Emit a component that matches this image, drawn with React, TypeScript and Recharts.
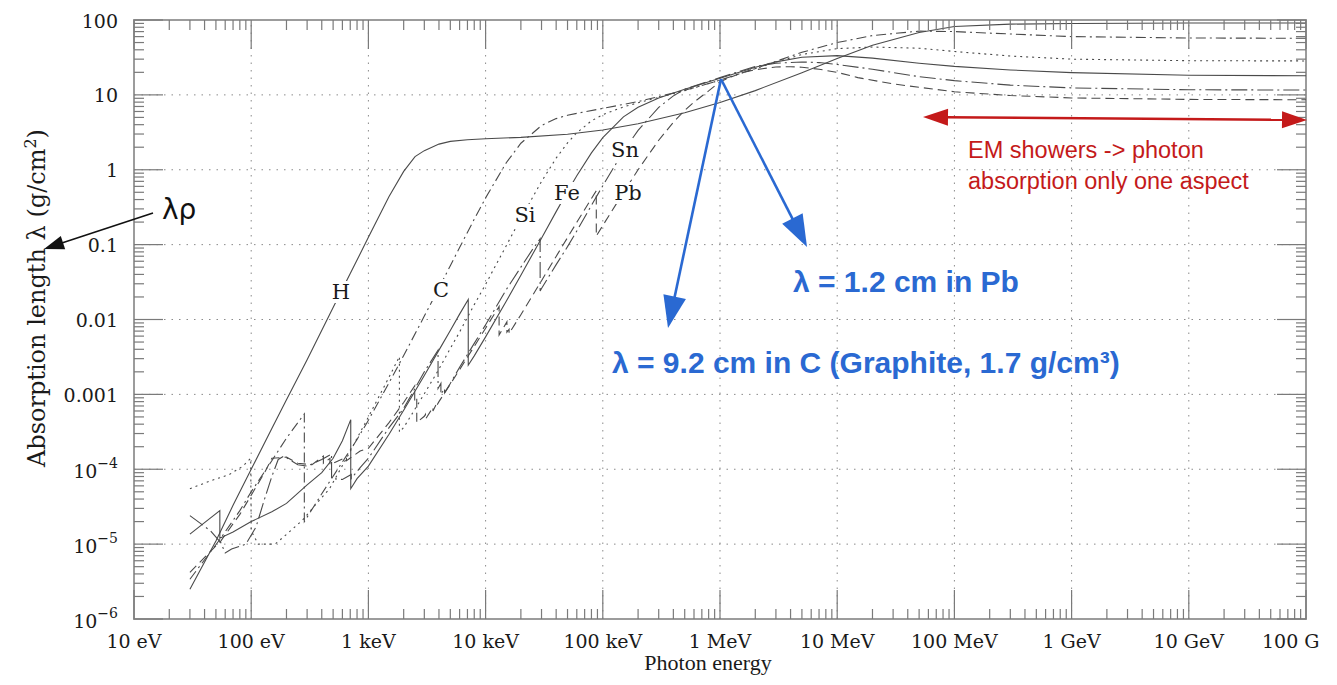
import React from 'react';
import { LineChart, Line, XAxis, YAxis, ReferenceLine, ReferenceArea } from 'recharts';

// ---------- axis definitions ----------
const X_DECADES = [10, 100, 1e3, 1e4, 1e5, 1e6, 1e7, 1e8, 1e9, 1e10, 1e11];
const X_LABELS = ['10 eV', '100 eV', '1 keV', '10 keV', '100 keV', '1 MeV', '10 MeV', '100 MeV', '1 GeV', '10 GeV', '100 G'];
const Y_DECADES = [1e-6, 1e-5, 1e-4, 1e-3, 1e-2, 1e-1, 1, 10, 100];
const Y_LABEL_BASE = ['10', '10', '10', '0.001', '0.01', '0.1', '1', '10', '100'];
const Y_LABEL_EXP = ['\u22126', '\u22125', '\u22124', '', '', '', '', '', ''];
const MINOR_MULT = [2, 3, 4, 5, 6, 7, 8, 9];

// ---------- data: photon energy (eV) vs absorption length (g/cm^2) ----------
const H_DATA: [number, number][] = [
  [30, 2.5e-6], [50, 1.1e-5], [70, 3.3e-5], [100, 1.0e-4], [150, 3.5e-4], [200, 8.5e-4], [300, 2.9e-3],
  [500, 1.45e-2], [700, 4.1e-2], [1000, 0.125], [1500, 0.44], [2000, 0.95], [2500, 1.5], [3000, 1.8],
  [4000, 2.2], [5000, 2.39], [7000, 2.52], [10000, 2.59], [20000, 2.71], [50000, 2.98], [1e5, 3.4],
  [2e5, 4.12], [5e5, 5.78], [1e6, 7.92], [2e6, 11.4], [5e6, 19.8], [1e7, 30.7], [2e7, 46], [5e7, 68],
  [1e8, 82], [3e8, 88], [1e9, 90], [1e10, 91], [1e11, 91],
];
const C_DATA: [number, number][] = [
  [30, 3.4e-6], [55, 1.2e-5], [80, 2.8e-5], [100, 5e-5], [150, 1.3e-4], [200, 2.6e-4], [284, 5.5e-4],
  [284, 2e-5], [400, 4.7e-5], [600, 1.25e-4], [800, 2.5e-4], [1000, 4.5e-4], [1500, 1.43e-3], [2000, 3.3e-3],
  [3000, 0.0111], [4000, 0.0265], [5000, 0.0523], [6000, 0.0913], [8000, 0.2185], [10000, 0.421],
  [15000, 1.24], [20000, 2.26], [30000, 3.9], [40000, 4.82], [50000, 5.34], [70000, 5.95], [1e5, 6.6],
  [2e5, 8.14], [5e5, 11.5], [1e6, 15.7], [2e6, 22.5], [5e6, 37], [1e7, 50], [2e7, 62], [5e7, 71],
  [1e8, 70], [3e8, 65], [1e9, 60], [1e10, 57.5], [1e11, 57],
];
const SI_DATA: [number, number][] = [
  [30, 5.5e-5], [45, 7e-5], [65, 8.5e-5], [85, 1.1e-4], [99, 1.4e-4], [100, 1.5e-5], [115, 1.0e-5],
  [160, 1.0e-5], [200, 1.35e-5], [275, 2.1e-5], [350, 3.3e-5], [466, 5.5e-5], [650, 1.4e-4], [1000, 5e-4],
  [1500, 1.7e-3], [1839, 3.2e-3], [1839, 3.13e-4], [2000, 3.6e-4], [3000, 1.02e-3], [4000, 2.17e-3],
  [5000, 4.1e-3], [6000, 6.8e-3], [8000, 0.0158], [10000, 0.0295], [15000, 0.0967], [20000, 0.224],
  [30000, 0.696], [40000, 1.43], [50000, 2.28], [60000, 3.12], [80000, 4.49], [1e5, 5.45], [1.5e5, 6.9],
  [2e5, 7.84], [3e5, 9.24], [5e5, 11.4], [1e6, 15.7], [2e6, 22.4], [3e6, 27.4], [5e6, 34.6], [1e7, 41.5],
  [2e7, 43.5], [5e7, 42], [1e8, 38], [3e8, 33], [1e9, 30], [1e10, 28.6], [1e11, 28.4],
];
const FE_DATA: [number, number][] = [
  [30, 1.36e-5], [54, 2.8e-5], [54, 1.2e-5], [70, 1.45e-5], [100, 2e-5], [150, 2.7e-5], [200, 3.5e-5],
  [300, 6.2e-5], [400, 9e-5], [500, 1.4e-4], [600, 2.4e-4], [707, 4.6e-4], [707, 5.5e-5], [800, 7.5e-5],
  [1000, 1.1e-4], [1500, 2.94e-4], [2000, 6.15e-4], [3000, 1.79e-3], [4000, 3.9e-3], [5000, 7.15e-3],
  [6000, 0.0118], [7112, 0.0185], [7112, 2.45e-3], [8000, 3.27e-3], [10000, 5.86e-3], [15000, 0.0175],
  [20000, 0.039], [30000, 0.122], [40000, 0.276], [50000, 0.511], [60000, 0.83], [80000, 1.68], [1e5, 2.69],
  [1.5e5, 5.09], [2e5, 6.85], [3e5, 9.1], [5e5, 11.9], [1e6, 16.7], [2e6, 23.4], [3e6, 27.6], [5e6, 31.8],
  [1e7, 33.4], [2e7, 31], [5e7, 26.5], [1e8, 24], [3e8, 21.5], [1e9, 19.8], [1e10, 18.3], [1e11, 18],
];
const SN_DATA: [number, number][] = [
  [30, 2.4e-5], [45, 1.5e-5], [55, 1.05e-5], [60, 7.6e-6], [68, 8.6e-6], [90, 1.0e-5], [110, 1.7e-5],
  [130, 4e-5], [150, 8e-5], [170, 1.35e-4], [190, 1.5e-4], [250, 1.15e-4], [300, 1.1e-4], [400, 1.35e-4],
  [485, 1.6e-4], [485, 7.5e-5], [600, 7.3e-5], [714, 8.5e-5], [714, 7.5e-5], [850, 1.05e-4], [1000, 1.4e-4],
  [1500, 3.6e-4], [2000, 6.5e-4], [3000, 2.0e-3], [3929, 3.9e-3], [3929, 1.2e-3], [4156, 1.4e-3],
  [4156, 1.0e-3], [4465, 1.2e-3], [4465, 1.05e-3], [5000, 1.4e-3], [6000, 2.3e-3], [8000, 4.8e-3],
  [10000, 8.5e-3], [15000, 0.025], [20000, 0.05], [25000, 0.085], [29200, 0.12], [29200, 0.024],
  [30000, 0.026], [40000, 0.054], [50000, 0.094], [60000, 0.152], [80000, 0.335], [1e5, 0.613],
  [1.5e5, 1.76], [2e5, 3.36], [3e5, 6.8], [4e5, 9.7], [5e5, 11.9], [1e6, 17], [2e6, 24], [3e6, 26.5],
  [5e6, 27.5], [7e6, 27], [1e7, 25.5], [2e7, 22], [5e7, 17.5], [1e8, 15.5], [3e8, 13.5], [1e9, 12.4],
  [1e10, 11.7], [1e11, 11.6],
];
const PB_DATA: [number, number][] = [
  [30, 4.2e-6], [55, 1.1e-5], [80, 2.5e-5], [100, 4.5e-5], [130, 9e-5], [150, 1.4e-4], [200, 1.45e-4],
  [250, 1.2e-4], [330, 1.15e-4], [413, 1.5e-4], [413, 1.2e-4], [470, 1.4e-4], [470, 1.15e-4], [650, 1.45e-4],
  [650, 1.3e-4], [850, 1.75e-4], [1000, 1.9e-4], [1500, 4.2e-4], [2000, 7.8e-4], [2484, 1.3e-3],
  [2484, 8e-4], [2586, 8.8e-4], [2586, 4.2e-4], [3000, 5.1e-4], [3066, 5.4e-4], [3066, 4.65e-4],
  [3554, 6.7e-4], [3554, 6e-4], [3851, 7.7e-4], [3851, 7.2e-4], [4000, 8e-4], [5000, 1.37e-3],
  [6000, 2.14e-3], [8000, 4.37e-3], [10000, 7.66e-3], [13035, 0.0149], [13035, 6.2e-3], [15200, 9.3e-3],
  [15200, 6.8e-3], [15860, 7.4e-3], [15860, 6.5e-3], [20000, 0.0116], [30000, 0.033], [40000, 0.0696],
  [50000, 0.124], [60000, 0.199], [80000, 0.413], [88000, 0.524], [88000, 0.13], [1e5, 0.18],
  [1.5e5, 0.497], [2e5, 1.0], [3e5, 2.48], [4e5, 4.3], [5e5, 6.2], [6e5, 8.0], [8e5, 11.3], [1e6, 15],
  [1.5e6, 19.5], [2e6, 21.7], [3e6, 23.6], [4e6, 23.8], [5e6, 23.4], [7e6, 22], [1e7, 20], [1.5e7, 17],
  [3e7, 14], [1e8, 11], [3e8, 9.8], [1e9, 9.1], [1e10, 8.7], [1e11, 8.6],
];

const SERIES = [
  { name: 'H', data: H_DATA, dash: undefined as string | undefined },
  { name: 'C', data: C_DATA, dash: '10 4 2 4' },
  { name: 'Si', data: SI_DATA, dash: '2 4' },
  { name: 'Fe', data: FE_DATA, dash: undefined },
  { name: 'Sn', data: SN_DATA, dash: '16 4 2 4' },
  { name: 'Pb', data: PB_DATA, dash: '9 5' },
];

// ---------- layout ----------
const W = 1337;
const H = 685;
const PLOT_LEFT = 134;
const PLOT_RIGHT = 1306;
const PLOT_TOP = 20;
const PLOT_BOTTOM = 619;
const TICK_COLOR = '#7a7a7a';
const LINE_COLOR = '#4a4a4a';
const GRID_COLOR = '#8a8a8a';
const BLUE = '#2a69d2';
const RED = '#c41a1a';

const X_TICKS = [
  ...X_DECADES,
  ...X_DECADES.slice(0, -1).flatMap((d) => MINOR_MULT.map((m) => d * m)),
].sort((a, b) => a - b);
const Y_TICKS = [
  ...Y_DECADES,
  ...Y_DECADES.slice(0, -1).flatMap((d) => MINOR_MULT.map((m) => d * m)),
].sort((a, b) => a - b);

const findMajor = (arr: number[], v: number) => arr.findIndex((d) => Math.abs(d - v) / d < 1e-9);

const XTick = (props: any) => {
  const { x, payload } = props;
  const i = findMajor(X_DECADES, payload.value);
  const len = i >= 0 ? 29 : 10;
  const last = i === X_DECADES.length - 1;
  return (
    <g>
      <line x1={x} x2={x} y1={PLOT_BOTTOM} y2={PLOT_BOTTOM - len} stroke={TICK_COLOR} strokeWidth={1.2} />
      <line x1={x} x2={x} y1={PLOT_TOP} y2={PLOT_TOP + len} stroke={TICK_COLOR} strokeWidth={1.2} />
      {i >= 0 && (
        <text
          x={last ? x - 44 : x}
          y={648}
          textAnchor={last ? 'start' : 'middle'}
          fontFamily="DejaVu Serif"
          fontSize={19}
          fill="#1a1a1a"
        >
          {X_LABELS[i]}
        </text>
      )}
    </g>
  );
};

const YTick = (props: any) => {
  const { y, payload } = props;
  const i = findMajor(Y_DECADES, payload.value);
  const len = i >= 0 ? 29 : 10;
  const exp = i >= 0 ? Y_LABEL_EXP[i] : '';
  return (
    <g>
      <line x1={PLOT_LEFT} x2={PLOT_LEFT + len} y1={y} y2={y} stroke={TICK_COLOR} strokeWidth={1.2} />
      <line x1={PLOT_RIGHT} x2={PLOT_RIGHT - len} y1={y} y2={y} stroke={TICK_COLOR} strokeWidth={1.2} />
      {i >= 0 && (
        <text x={118} y={exp ? y + 9 : y + 7.5} textAnchor="end" fontFamily="DejaVu Serif" fontSize={19} fill="#1a1a1a">
          {Y_LABEL_BASE[i]}
          {exp && (
            <tspan dy={-10} fontSize={14}>
              {exp}
            </tspan>
          )}
        </text>
      )}
    </g>
  );
};

function Arrow({ x1, y1, x2, y2, color, width, headLen, headW }: any) {
  const dx = x2 - x1;
  const dy = y2 - y1;
  const L = Math.hypot(dx, dy);
  const ux = dx / L;
  const uy = dy / L;
  const bx = x2 - ux * headLen;
  const by = y2 - uy * headLen;
  const px = -uy;
  const py = ux;
  return (
    <g>
      <line x1={x1} y1={y1} x2={bx + ux * 2} y2={by + uy * 2} stroke={color} strokeWidth={width} />
      <polygon
        points={`${x2},${y2} ${bx + (px * headW) / 2},${by + (py * headW) / 2} ${bx - (px * headW) / 2},${by - (py * headW) / 2}`}
        fill={color}
      />
    </g>
  );
}

const ELEMENT_LABELS = [
  { t: 'H', x: 341, y: 299, w: 22 },
  { t: 'C', x: 441, y: 297, w: 20 },
  { t: 'Si', x: 525, y: 222, w: 26 },
  { t: 'Fe', x: 567, y: 200, w: 32 },
  { t: 'Sn', x: 625, y: 157, w: 32 },
  { t: 'Pb', x: 628, y: 200, w: 32 },
];

export default function App() {
  return (
    <div style={{ margin: -8, position: 'relative', width: W, height: H, background: '#fff', overflow: 'hidden' }}>
      <LineChart width={W} height={H} margin={{ top: PLOT_TOP, right: W - PLOT_RIGHT, bottom: 0, left: 0 }}>
        <XAxis
          dataKey="e"
          type="number"
          scale="log"
          domain={[10, 1e11]}
          allowDataOverflow
          ticks={X_TICKS}
          interval={0}
          tick={(p: any) => <XTick {...p} />}
          tickLine={false}
          axisLine={false}
          tickSize={0}
          tickMargin={0}
          height={H - PLOT_BOTTOM}
        />
        <YAxis
          type="number"
          scale="log"
          domain={[1e-6, 100]}
          allowDataOverflow
          ticks={Y_TICKS}
          interval={0}
          tick={(p: any) => <YTick {...p} />}
          tickLine={false}
          axisLine={false}
          tickSize={0}
          tickMargin={0}
          width={PLOT_LEFT}
        />
        {X_DECADES.slice(1, -1).map((d) => (
          <ReferenceLine key={'gx' + d} x={d} stroke={GRID_COLOR} strokeDasharray="1.5 6" strokeWidth={1} />
        ))}
        {Y_DECADES.slice(1, -1).map((d) => (
          <ReferenceLine key={'gy' + d} y={d} stroke={GRID_COLOR} strokeDasharray="1.5 6" strokeWidth={1} />
        ))}
        <ReferenceArea x1={10} x2={1e11} y1={1e-6} y2={100} fill="none" fillOpacity={0} stroke="#9c9c9c" strokeWidth={2} />
        {SERIES.map((s) => (
          <Line
            key={s.name}
            name={s.name}
            data={s.data.map(([e, v]) => ({ e, v }))}
            dataKey="v"
            type="linear"
            stroke={LINE_COLOR}
            strokeWidth={1.1}
            strokeDasharray={s.dash}
            dot={false}
            activeDot={false}
            isAnimationActive={false}
          />
        ))}
      </LineChart>

      <svg width={W} height={H} style={{ position: 'absolute', left: 0, top: 0, pointerEvents: 'none' }}>
        {/* element labels */}
        {ELEMENT_LABELS.map((l) => (
          <g key={l.t}>
            <rect x={l.x - l.w / 2} y={l.y - 18} width={l.w} height={22} fill="#fff" />
            <text x={l.x} y={l.y} textAnchor="middle" fontFamily="DejaVu Serif" fontSize={21} fill="#1a1a1a">
              {l.t}
            </text>
          </g>
        ))}

        {/* axis titles */}
        <text
          transform="translate(45,298) rotate(-90)"
          textAnchor="middle"
          fontFamily="DejaVu Serif"
          fontSize={24}
          fill="#1a1a1a"
        >
          Absorption length λ (g/cm
          <tspan dy={-9} fontSize={16}>2</tspan>
          <tspan dy={9}>)</tspan>
        </text>
        <text x={708} y={670} textAnchor="middle" fontFamily="Liberation Serif" fontSize={22} fill="#1a1a1a">
          Photon energy
        </text>

        {/* λρ annotation */}
        <text x={162} y={219} fontFamily="DejaVu Sans" fontSize={28} fill="#111">
          λρ
        </text>
        <Arrow x1={153} y1={213} x2={44} y2={249} color="#111" width={1.6} headLen={20} headW={14} />

        {/* blue arrows + text */}
        <Arrow x1={721} y1={79} x2={668} y2={328} color={BLUE} width={2.6} headLen={32} headW={23} />
        <Arrow x1={721} y1={79} x2={807} y2={247} color={BLUE} width={2.6} headLen={32} headW={23} />
        <text x={793} y={292} fontFamily="Liberation Sans" fontWeight="bold" fontSize={30} fill={BLUE}>
          λ = 1.2 cm in Pb
        </text>
        <text x={612} y={373} fontFamily="Liberation Sans" fontWeight="bold" fontSize={30} fill={BLUE}>
          λ = 9.2 cm in C (Graphite, 1.7 g/cm³)
        </text>

        {/* red double arrow + text */}
        <Arrow x1={1115} y1={118.5} x2={923} y2={117} color={RED} width={2.6} headLen={25} headW={17} />
        <Arrow x1={1115} y1={118.5} x2={1307} y2={120} color={RED} width={2.6} headLen={25} headW={17} />
        <text x={968} y={158} fontFamily="Liberation Sans" fontSize={23.5} fill={RED}>
          EM showers -&gt; photon
        </text>
        <text x={968} y={189} fontFamily="Liberation Sans" fontSize={23.5} fill={RED}>
          absorption only one aspect
        </text>
      </svg>
    </div>
  );
}
